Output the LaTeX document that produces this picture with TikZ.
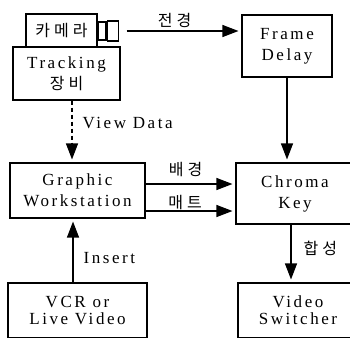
\documentclass[tikz,border=0pt]{standalone}
\usepackage{fontspec}
\setmainfont{Liberation Serif}[LetterSpace=15]
\newfontfamily\krfont{Noto Sans CJK KR}[LetterSpace=25]
\newcommand{\kor}[1]{{\krfont\fontsize{16}{19}\selectfont #1}}
\usetikzlibrary{arrows.meta,calc}

\begin{document}
\begin{tikzpicture}[x=1pt, y=-1pt,
    box/.style={rectangle, draw, line width=1.1pt, align=center, inner sep=0pt, font=\fontsize{17}{21}\selectfont},
    lowbox/.style={box, font=\fontsize{17}{17}\selectfont},
    lens/.style={rectangle, draw, line width=1.1pt, inner sep=0pt},
    arr/.style={line width=1.2pt, shorten >=3pt, -{Triangle[length=16pt,width=12pt]}},
    lbl/.style={inner sep=0pt, font=\fontsize{17}{21}\selectfont},
]
\useasboundingbox (0,0) rectangle (350,341);
\clip (0,0) rectangle (350,337);

% camera on its tracking unit
\node[box, minimum width=107pt, minimum height=53pt] (track) at (66.5,73.5) {Tracking\\\kor{장비}};
\node[box, minimum width=71pt, minimum height=33pt, fill=white] (cam) at (61.5,30.5) {\kor{카메라}};
\node[lens, minimum width=8pt, minimum height=18pt] (lensa) at (102,31) {};
\node[lens, minimum width=11pt, minimum height=20pt, anchor=west] (lensb) at (lensa.east) {};

\node[box, minimum width=90pt, minimum height=62pt] (delay) at (287,46) {Frame\\Delay};
\node[box, minimum width=135pt, minimum height=55pt] (gw) at (77.5,190.5) {Graphic\\Workstation};
\node[box, minimum width=118pt, minimum height=61pt] (key) at (295,193.5) {Chroma\\Key};
\node[lowbox, minimum width=139pt, minimum height=55pt] (vcr) at (77.5,310.5) {VCR or\\Live Video};
\node[lowbox, minimum width=120pt, minimum height=55pt] (switch) at (298,310.5) {Video\\Switcher};

% signal paths
\draw[arr, shorten <=8pt] (lensb.east) -- (lensb.east -| delay.west)
    node[lbl, pos=.456, yshift=11pt] {\kor{전경}};
\draw[arr, dash pattern=on 4pt off 3pt] ([xshift=5.5pt]track.south) -- ([xshift=5.5pt]track.south |- gw.north)
    node[lbl, pos=.37, anchor=west, xshift=10pt] {View Data};
\draw[arr] ([xshift=-4.5pt]vcr.north) -- ([xshift=-4.5pt]vcr.north |- gw.south)
    node[lbl, pos=.385, anchor=west, xshift=10pt] {Insert};
\draw[arr] ([yshift=6.5pt]gw.east) -- ([yshift=6.5pt]gw.east -| key.west)
    node[lbl, pos=.445, yshift=14pt] {\kor{배경}};
\draw[arr] ([yshift=-20.5pt]gw.east) -- ([yshift=-20.5pt]gw.east -| key.west)
    node[lbl, pos=.44, yshift=9pt] {\kor{매트}};
\draw[arr] (delay.south) -- (delay.south |- key.north);
\draw[arr] ([xshift=-4pt]key.south) -- ([xshift=-4pt]key.south |- switch.north)
    node[lbl, pos=.42, anchor=west, xshift=12pt] {\kor{합성}};

\end{tikzpicture}
\end{document}
